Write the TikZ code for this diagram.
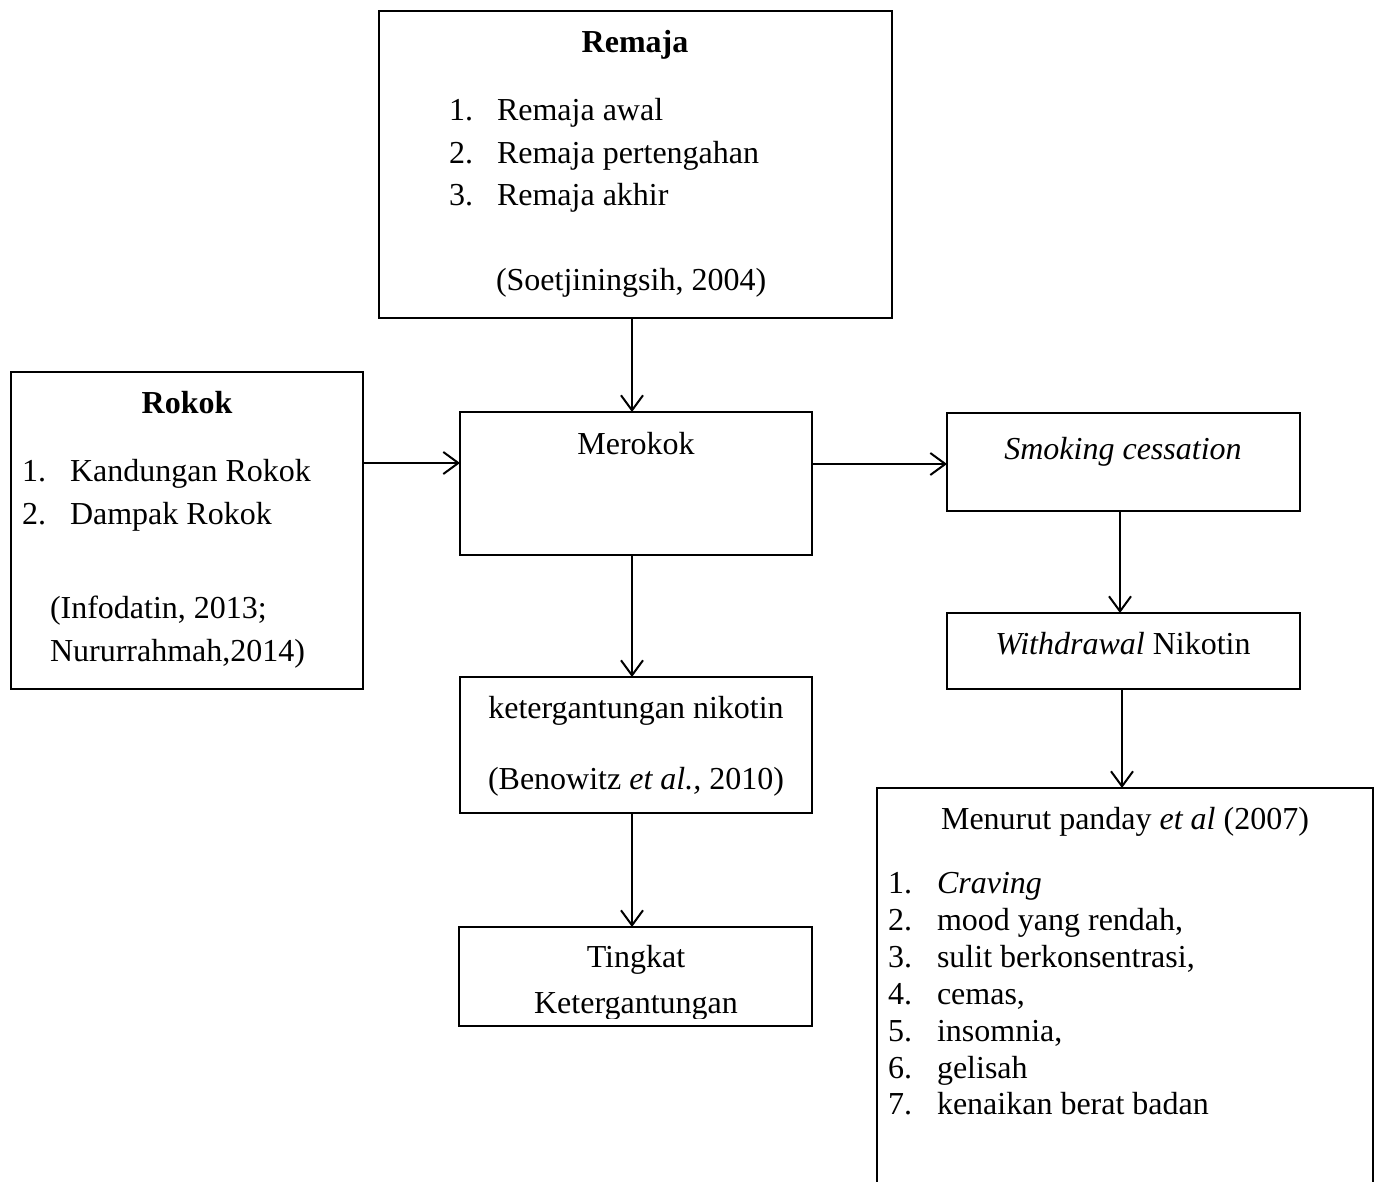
\documentclass[tikz,border=0pt]{standalone}
\usepackage{fontspec}
\setmainfont{Liberation Serif}
\usetikzlibrary{arrows.meta}
\begin{document}
\begin{tikzpicture}[x=1pt,y=-1pt,
  box/.style={draw,line width=2.4pt,inner sep=0pt,outer sep=0pt,rectangle},
  openbox/.style={inner sep=0pt,outer sep=0pt,rectangle},
  txt/.style={inner sep=0pt,outer sep=0pt,font=\fontsize{32}{38}\selectfont},
  arr/.style={line width=2pt,-{Straight Barb[length=15pt,width=22pt,line width=2pt]}}]
\useasboundingbox (0,0) rectangle (1379,1182);
% boxes
\node[box,minimum width=513pt,minimum height=307pt] (remaja) at (635.5,164.5) {};
\node[box,minimum width=352pt,minimum height=317pt] (rokok) at (187,530.5) {};
\node[box,minimum width=352pt,minimum height=143pt] (merokok) at (636,483.5) {};
\node[box,minimum width=353pt,minimum height=98pt] (smoking) at (1123.5,462) {};
\node[box,minimum width=353pt,minimum height=76pt] (withdrawal) at (1123.5,651) {};
\node[box,minimum width=352pt,minimum height=136pt] (keter) at (636,745) {};
\node[box,minimum width=353pt,minimum height=99pt] (tingkat) at (635.5,976.5) {};
\node[openbox,minimum width=496pt,minimum height=397pt] (menurut) at (1125,986.5) {};
\draw[line width=2.4pt] (menurut.south west) -- (menurut.north west) -- (menurut.north east) -- (menurut.south east);
% texts: Remaja
\node[txt,anchor=base,font=\fontsize{32}{38}\selectfont\bfseries] (t1) at (635,53) {Remaja};
\node[txt,anchor=base west] (t2) at (449,121) {1.};
\node[txt,anchor=base west] (t3) at (497,121) {Remaja awal};
\node[txt,anchor=base west] (t4) at (449,164) {2.};
\node[txt,anchor=base west] (t5) at (497,164) {Remaja pertengahan};
\node[txt,anchor=base west] (t6) at (449,206) {3.};
\node[txt,anchor=base west] (t7) at (497,206) {Remaja akhir};
\node[txt,anchor=base west] (t8) at (496,291) {(Soetjiningsih, 2004)};
% Rokok
\node[txt,anchor=base,font=\fontsize{32}{38}\selectfont\bfseries] (r1) at (187,413) {Rokok};
\node[txt,anchor=base west] (r2) at (22,481) {1.};
\node[txt,anchor=base west] (r3) at (70,481) {Kandungan Rokok};
\node[txt,anchor=base west] (r4) at (22,524) {2.};
\node[txt,anchor=base west] (r5) at (70,524) {Dampak Rokok};
\node[txt,anchor=base west] (r6) at (50,618) {(Infodatin, 2013;};
\node[txt,anchor=base west] (r7) at (50,661) {Nururrahmah,2014)};
% Merokok
\node[txt,anchor=base] (m1) at (636,454) {Merokok};
% Smoking
\node[txt,anchor=base] (s1) at (1123,459) {\itshape Smoking cessation};
\node[txt,anchor=base] (w1) at (1123,654) {\itshape Withdrawal\upshape\ Nikotin};
% keter
\node[txt,anchor=base] (k1) at (636,718) {ketergantungan nikotin};
\node[txt,anchor=base] (k2) at (636,789) {(Benowitz \textit{et al.,} 2010)};
% tingkat
\node[txt,anchor=base] (g1) at (636,967) {Tingkat};
\begin{scope}
\clip (459,990) rectangle (812,1018);
\node[txt,anchor=base] (g2) at (636,1013) {Ketergantungan};
\end{scope}
% menurut
\node[txt,anchor=base] (n0) at (1125,829) {Menurut panday \textit{et al} (2007)};
\node[txt,anchor=base west] (n1a) at (888,893) {1.};
\node[txt,anchor=base west] (n1) at (937,893) {\itshape Craving};
\node[txt,anchor=base west] (n2a) at (888,930) {2.};
\node[txt,anchor=base west] (n2) at (937,930) {mood yang rendah,};
\node[txt,anchor=base west] (n3a) at (888,967) {3.};
\node[txt,anchor=base west] (n3) at (937,967) {sulit berkonsentrasi,};
\node[txt,anchor=base west] (n4a) at (888,1004) {4.};
\node[txt,anchor=base west] (n4) at (937,1004) {cemas,};
\node[txt,anchor=base west] (n5a) at (888,1041) {5.};
\node[txt,anchor=base west] (n5) at (937,1041) {insomnia,};
\node[txt,anchor=base west] (n6a) at (888,1078) {6.};
\node[txt,anchor=base west] (n6) at (937,1078) {gelisah};
\node[txt,anchor=base west] (n7a) at (888,1114) {7.};
\node[txt,anchor=base west] (n7) at (937,1114) {kenaikan berat badan};
% arrow guides
\coordinate (xa) at (632,0);
\coordinate (xb) at (1120,0);
\coordinate (xc) at (1122,0);
\coordinate (ya) at (0,463);
\coordinate (yb) at (0,464);
\draw[arr] (remaja.south -| xa) -- (merokok.north -| xa);
\draw[arr] (rokok.east |- ya) -- (merokok.west |- ya);
\draw[arr] (merokok.east |- yb) -- (smoking.west |- yb);
\draw[arr] (merokok.south -| xa) -- (keter.north -| xa);
\draw[arr] (keter.south -| xa) -- (tingkat.north -| xa);
\draw[arr] (smoking.south -| xb) -- (withdrawal.north -| xb);
\draw[arr] (withdrawal.south -| xc) -- (menurut.north -| xc);
\end{tikzpicture}
\end{document}
